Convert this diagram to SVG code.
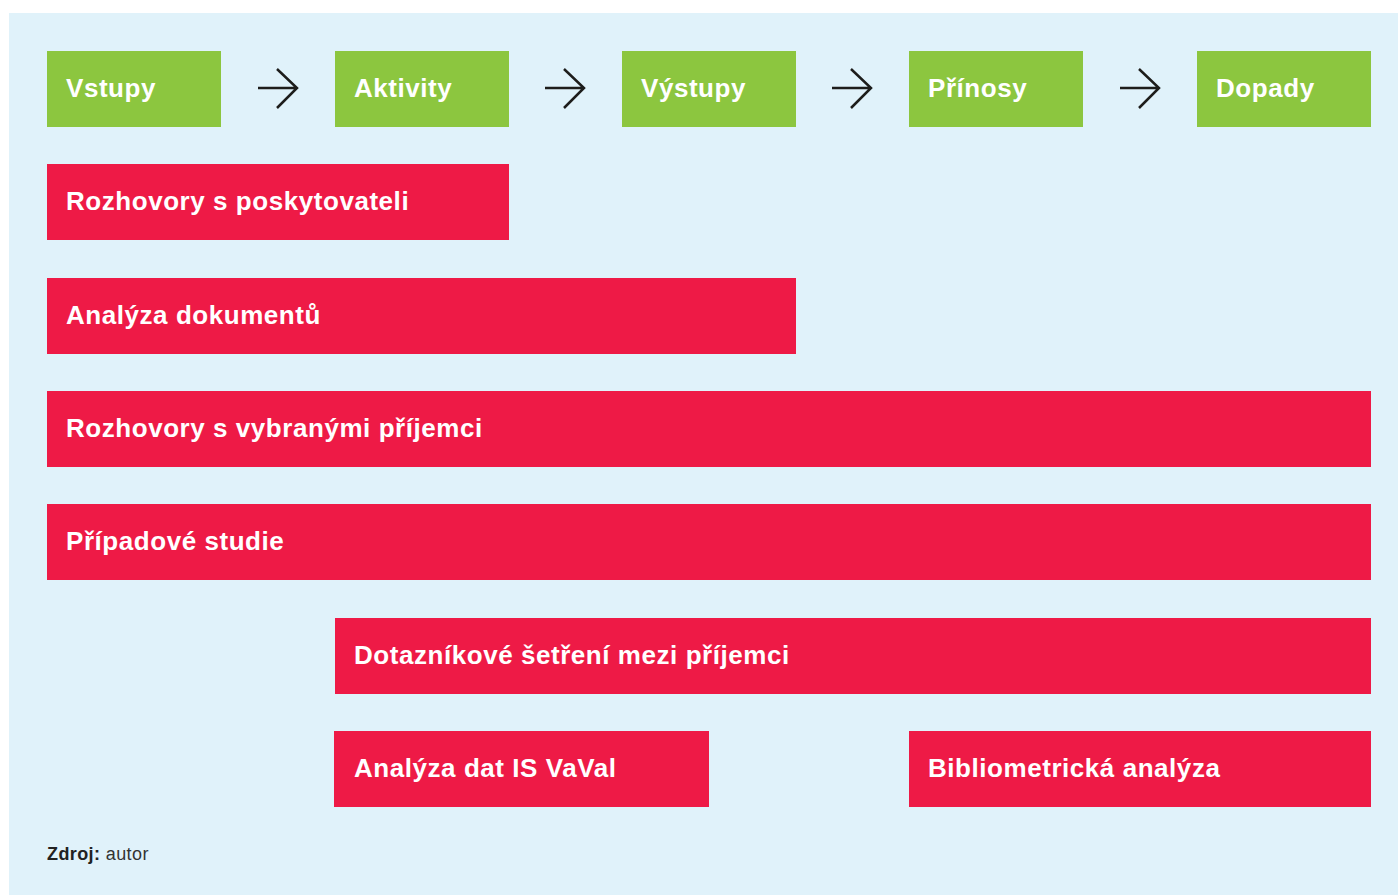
<svg xmlns="http://www.w3.org/2000/svg" width="1398" height="895" viewBox="0 0 1398 895">
<style>
.g{fill:#8cc63f}
.r{fill:#ee1a46}
.t{font-family:"Liberation Sans",Arial,sans-serif;font-weight:bold;font-size:26px;letter-spacing:0.55px;fill:#fff}
.a{fill:none;stroke:#1d1d1b;stroke-width:2.5}
.s{font-family:"Liberation Sans",Arial,sans-serif;font-size:18px;letter-spacing:0.4px;fill:#333}
</style>
<rect x="0" y="0" width="1398" height="895" fill="#fff"/>
<rect x="9" y="13" width="1389" height="882" fill="#e0f2fa"/>
<g id="vstupy"><rect class="g" x="47" y="51" width="174" height="76"/><text class="t" x="66" y="97">Vstupy</text></g>
<g id="aktivity"><rect class="g" x="335" y="51" width="174" height="76"/><text class="t" x="354" y="97">Aktivity</text></g>
<g id="vystupy"><rect class="g" x="622" y="51" width="174" height="76"/><text class="t" x="641" y="97">Výstupy</text></g>
<g id="prinosy"><rect class="g" x="909" y="51" width="174" height="76"/><text class="t" x="928" y="97">Přínosy</text></g>
<g id="dopady"><rect class="g" x="1197" y="51" width="174" height="76"/><text class="t" x="1216" y="97">Dopady</text></g>
<g id="connectors">
<path class="a" d="M258 88H297M277 69L297 88L277 108"/>
<path class="a" d="M545 88H584M564 69L584 88L564 108"/>
<path class="a" d="M832 88H871M851 69L871 88L851 108"/>
<path class="a" d="M1120 88H1159M1139 69L1159 88L1139 108"/>
</g>
<g id="m1"><rect class="r" x="47" y="164" width="462" height="76"/><text class="t" x="66" y="210">Rozhovory s poskytovateli</text></g>
<g id="m2"><rect class="r" x="47" y="278" width="749" height="76"/><text class="t" x="66" y="324">Analýza dokumentů</text></g>
<g id="m3"><rect class="r" x="47" y="391" width="1324" height="76"/><text class="t" x="66" y="437">Rozhovory s vybranými příjemci</text></g>
<g id="m4"><rect class="r" x="47" y="504" width="1324" height="76"/><text class="t" x="66" y="550">Případové studie</text></g>
<g id="m5"><rect class="r" x="335" y="618" width="1036" height="76"/><text class="t" x="354" y="664">Dotazníkové šetření mezi příjemci</text></g>
<g id="m6"><rect class="r" x="334" y="731" width="375" height="76"/><text class="t" x="354" y="777">Analýza dat IS VaVal</text></g>
<g id="m7"><rect class="r" x="909" y="731" width="462" height="76"/><text class="t" x="928" y="777">Bibliometrická analýza</text></g>
<text class="s" x="47" y="860"><tspan font-weight="bold" fill="#222">Zdroj:</tspan> autor</text>
</svg>
